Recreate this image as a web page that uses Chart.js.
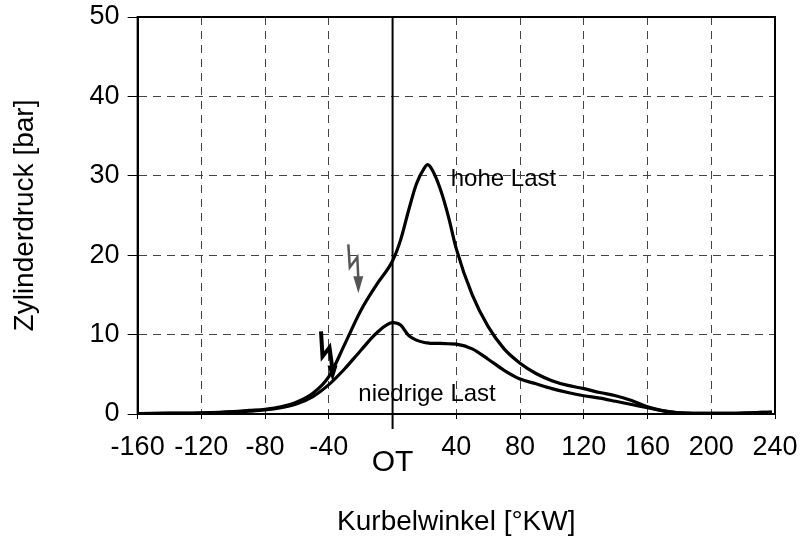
<!DOCTYPE html>
<html>
<head>
<meta charset="utf-8">
<script src="https://cdn.jsdelivr.net/npm/chart.js@4"></script>
<style>
  html, body { margin: 0; padding: 0; background: #fff; }
  #wrap { width: 800px; height: 540px; }
</style>
</head>
<body>
<div id="wrap"><canvas id="canvasDruck"></canvas></div>
<script>
// Kurbelwinkel [°KW]
const winkel = [-160, -140, -120, -100, -90, -80, -70, -60, -50, -40, -30, -20, -10, 0, 5, 10, 15, 20, 22, 25, 30, 35, 40, 50, 60, 70, 80, 90, 100, 110, 120, 130, 140, 150, 160, 170, 180, 200, 220, 238];

// Zylinderdruck [bar]
const hoheLast = [0.05, 0.1, 0.15, 0.3, 0.45, 0.6, 0.9, 1.5, 2.6, 4.7, 8.8, 13.0, 16.3, 19.3, 21.9, 25.6, 29.0, 31.0, 31.4, 30.7, 28.3, 24.9, 20.8, 15.0, 11.0, 8.2, 6.4, 5.1, 4.2, 3.6, 3.2, 2.7, 2.3, 1.7, 0.9, 0.4, 0.15, 0.08, 0.12, 0.25];
const niedrigeLast = [0.05, 0.08, 0.12, 0.25, 0.35, 0.5, 0.8, 1.3, 2.2, 3.7, 5.7, 8.0, 10.2, 11.5, 11.2, 9.9, 9.3, 9.0, 8.95, 8.9, 8.9, 8.85, 8.8, 8.2, 6.9, 5.5, 4.4, 3.8, 3.2, 2.7, 2.3, 2.0, 1.6, 1.2, 0.8, 0.4, 0.15, 0.08, 0.12, 0.25];

// Achsen
const xTicks = [-160, -120, -80, -40, 0, 40, 80, 120, 160, 200, 240];
const yTicks = [0, 10, 20, 30, 40, 50];

const FONT = '"Liberation Sans", Arial, sans-serif';

function toPoints(values) {
  return winkel.map((w, i) => ({ x: w, y: values[i] }));
}

// Rahmen, OT-Linie, Beschriftungen und Zündblitze
const extras = {
  id: 'extras',
  afterDatasetsDraw(chart) {
    const { ctx, chartArea: a, scales: { x, y } } = chart;
    ctx.save();
    ctx.strokeStyle = '#000';
    ctx.lineWidth = 2;
    ctx.strokeRect(a.left, a.top, a.right - a.left, a.bottom - a.top);

    // OT
    const x0 = x.getPixelForValue(0);
    ctx.beginPath();
    ctx.moveTo(x0, a.top);
    ctx.lineTo(x0, a.bottom + 15);
    ctx.stroke();

    ctx.fillStyle = '#000';
    ctx.textAlign = 'center';
    ctx.textBaseline = 'middle';
    ctx.font = '30px ' + FONT;
    ctx.fillText('OT', x0, 463);

    ctx.textAlign = 'left';
    ctx.font = '24px ' + FONT;
    ctx.fillText('hohe Last', x.getPixelForValue(36.5), y.getPixelForValue(29.6));
    ctx.fillText('niedrige Last', x.getPixelForValue(-21.5), y.getPixelForValue(2.5));

    // Zündblitze
    const blitz = (wx, wy, color, width, pts, head) => {
      const px = x.getPixelForValue(wx);
      const py = y.getPixelForValue(wy);
      ctx.strokeStyle = color;
      ctx.fillStyle = color;
      ctx.lineWidth = width;
      ctx.lineJoin = 'miter';
      ctx.beginPath();
      pts.forEach((p, i) => i ? ctx.lineTo(px + p[0], py + p[1]) : ctx.moveTo(px + p[0], py + p[1]));
      ctx.stroke();
      ctx.beginPath();
      ctx.moveTo(px - head[0], py - head[1]);
      ctx.lineTo(px + head[0], py - head[1]);
      ctx.lineTo(px, py);
      ctx.closePath();
      ctx.fill();
    };
    blitz(-21.5, 15.2, '#555', 2.5, [[-10, -49], [-8.5, -26], [-1, -36], [0, -14]], [5, 17]);
    blitz(-37.7, 4.1, '#000', 4, [[-11.5, -50], [-10, -25], [-3, -34], [0, -12]], [5, 16]);
    ctx.restore();
  }
};

const ctx = document.getElementById('canvasDruck').getContext('2d');
const druckChart = new Chart(ctx, {
  type: 'line',
  data: {
    datasets: [{
      label: 'hohe Last',
      data: toPoints(hoheLast),
      borderColor: '#000',
      borderWidth: 3.2,
      pointRadius: 0,
      tension: 0.4,
      cubicInterpolationMode: 'monotone'
    }, {
      label: 'niedrige Last',
      data: toPoints(niedrigeLast),
      borderColor: '#000',
      borderWidth: 3.2,
      pointRadius: 0,
      tension: 0.4,
      cubicInterpolationMode: 'monotone'
    }]
  },
  options: {
    responsive: true,
    maintainAspectRatio: false,
    animation: false,
    layout: { padding: { left: 4, top: 0, right: 0, bottom: 1 } },
    plugins: { legend: { display: false }, tooltip: { enabled: false } },
    scales: {
      x: {
        type: 'linear',
        min: -160,
        max: 240,
        afterBuildTicks: s => { s.ticks = xTicks.map(v => ({ value: v })); },
        afterFit: s => { s.paddingRight = 25; },
        ticks: {
          color: '#000',
          font: { family: FONT, size: 27 },
          padding: 12,
          maxRotation: 0,
          callback: v => v === 0 ? '' : v
        },
        grid: { color: '#444', lineWidth: 1, tickLength: 5, tickColor: '#000', tickBorderDash: [] },
        border: { display: true, color: '#000', width: 2, dash: [8, 6] },
        title: { display: true, text: 'Kurbelwinkel [°KW]', color: '#000', font: { family: FONT, size: 28 }, padding: { top: 30, bottom: 0 } }
      },
      y: {
        min: 0,
        max: 50,
        afterBuildTicks: s => { s.ticks = yTicks.map(v => ({ value: v })); },
        afterFit: s => { s.paddingTop = 17; },
        ticks: {
          color: '#000',
          font: { family: FONT, size: 27 },
          padding: 8
        },
        grid: { color: '#444', lineWidth: 1, tickLength: 10, tickColor: '#000', tickBorderDash: [] },
        border: { display: true, color: '#000', width: 2, dash: [8, 6] },
        title: { display: true, text: 'Zylinderdruck [bar]', color: '#000', font: { family: FONT, size: 28 }, padding: { top: 4, bottom: 40 } }
      }
    }
  },
  plugins: [extras]
});
</script>
</body>
</html>
